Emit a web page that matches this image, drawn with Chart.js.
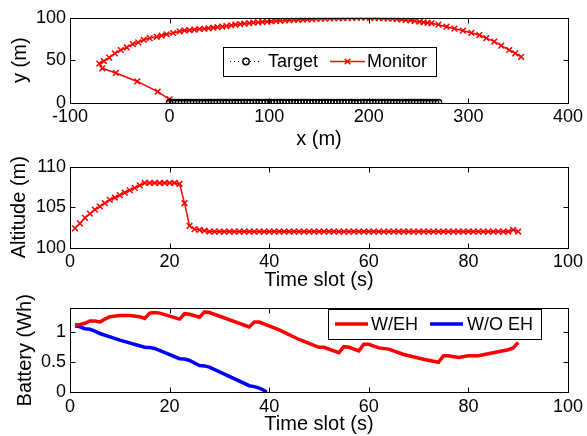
<!DOCTYPE html>
<html><head><meta charset="utf-8">
<script src="https://cdn.jsdelivr.net/npm/chart.js@4.4.0/dist/chart.umd.min.js"></script>
<style>
html,body{margin:0;padding:0;background:#fff;overflow:hidden;width:587px;height:436px;}
canvas{position:absolute;left:0;}
</style></head><body>
<canvas id="c1" width="587" height="152" style="top:0px"></canvas>
<canvas id="c2" width="587" height="140" style="top:152px"></canvas>
<canvas id="c3" width="587" height="144" style="top:292px"></canvas>
<script>
// ---------- Data ----------
const targetX = [0,3,6,9,12,15,18,21,24,27,30,33,36,39,42,45,48,51,54,57,60,63,66,69,72,75,78,81,84,87,
  90,93,96,99,102,105,108,111,114,117,120,123,126,129,132,135,138,141,144,147,150,153,156,159,162,165,168,171,174,177,
  180,183,186,189,192,195,198,201,204,207,210,213,216,219,222,225,228,231,234,237,240,243,246,249,252,255,258,261,264,267,270];
const targetY = [0,0,0,0,0,0,0,0,0,0,0,0,0,0,0,0,0,0,0,0,0,0,0,0,0,0,0,0,0,0,
  0,0,0,0,0,0,0,0,0,0,0,0,0,0,0,0,0,0,0,0,0,0,0,0,0,0,0,0,0,0,
  0,0,0,0,0,0,0,0,0,0,0,0,0,0,0,0,0,0,0,0,0,0,0,0,0,0,0,0,0,0,0];
const monitorX = [0,-12,-32.5,-54,-67.6,-70.6,
  -66,-60.6,-55,-49,-43,-37,-31.5,-26,-20,-13,-8,-3,3.6,10,15,20,25,30,35,39,
  44,48,53,57,62,66,71,75,80,84,89,93,98,102,107,111,116,120,125,129,134,138,143,147,
  152,156,161,165,170,174,179,183,188,192,197,201,206,210,215,219,224,228,233,237,242,246,251,255,259,
  263,270,278,286,294.5,303,311,318,326,333,341,347,353];
const monitorY = [4,13,25,35,40.5,46,
  49,53,58,62,65,69,71,74,76,77.5,79,80.5,82,84,85,85.5,86,86.7,87,87.5,
  88.2,88.8,89.5,90.2,91.1,91.8,92.5,93,93.6,94.1,94.6,95,95.4,95.8,96.2,96.5,96.8,97,97.3,97.5,97.8,98,98.3,98.5,
  98.8,99,99.2,99.4,99.5,99.6,99.7,99.8,99.9,100,100,99.9,99.8,99.6,99.4,99.2,98.8,98.4,97.9,97.3,96.8,96.2,95.3,94.6,94,
  93.5,91.8,89.4,87.2,84.7,82.2,79.6,76,71.8,67.2,62,58,54];

const timeSlots = [1,2,3,4,5,6,7,8,9,10,11,12,13,14,15,16,17,18,19,20,21,22,23,24,25,26,27,28,29,30,
  31,32,33,34,35,36,37,38,39,40,41,42,43,44,45,46,47,48,49,50,51,52,53,54,55,56,57,58,59,60,
  61,62,63,64,65,66,67,68,69,70,71,72,73,74,75,76,77,78,79,80,81,82,83,84,85,86,87,88,89,90];
const altitude = [102.4,103.0,103.7,104.2,104.7,105.1,105.5,105.9,106.2,106.5,
  106.8,107.1,107.4,107.7,108.0,108.0,108.0,108.0,108.0,108.0,
  108.0,107.9,105.5,102.7,102.3,102.2,102.1,102.0,102.0,102.0,
  102.0,102.0,102.0,102.0,102.0,102.0,102.0,102.0,102.0,102.0,
  102.0,102.0,102.0,102.0,102.0,102.0,102.0,102.0,102.0,102.0,
  102.0,102.0,102.0,102.0,102.0,102.0,102.0,102.0,102.0,102.0,
  102.0,102.0,102.0,102.0,102.0,102.0,102.0,102.0,102.0,102.0,
  102.0,102.0,102.0,102.0,102.0,102.0,102.0,102.0,102.0,102.0,
  102.0,102.0,102.0,102.0,102.0,102.0,102.0,102.0,102.2,102.0];

const ehT = [1,2,3,4,5,6,7,8,10,12,14,15,16,17,18,22,23,24,26,27,28,36,37,38,42,46,50,51,54,55,56,58,59,60,62,64,67,71,74,75,76,78,80,82,85,88,89,90];
const ehB = [1.12,1.13,1.15,1.19,1.19,1.17,1.22,1.26,1.28,1.28,1.26,1.23,1.32,1.33,1.32,1.22,1.31,1.30,1.25,1.34,1.33,1.09,1.17,1.17,1.04,0.88,0.75,0.75,0.66,0.76,0.75,0.69,0.80,0.80,0.74,0.72,0.63,0.55,0.50,0.61,0.61,0.58,0.61,0.61,0.66,0.71,0.74,0.83];
const noEhT = [1,2,3,4,5,6,10,15,16,17,22,23,24,26,27,28,36,37,38,39,39.5];
const noEhB = [1.11,1.09,1.06,1.05,1.02,0.98,0.87,0.75,0.745,0.73,0.56,0.555,0.53,0.445,0.44,0.42,0.11,0.095,0.07,0.03,0.0];

const xTicks1 = [-100,0,100,200,300,400];
const yTicks1 = [0,50,100];
const xTicksT = [0,20,40,60,80,100];
const yTicks2 = [100,105,110];
const yTicks3 = [0,0.5,1];

// ---------- Helpers ----------
const FONT = "'Liberation Sans', Arial, Helvetica, sans-serif";
const pts = (xs, ys) => xs.map((x, i) => ({x: x, y: ys[i]}));
const fmt = v => String(v);

function xScale(min, max, ticks, title, axisH, titlePad) {
  return {
    type: 'linear', position: 'bottom', min: min, max: max,
    afterBuildTicks: s => { s.ticks = ticks.map(v => ({value: v})); },
    afterFit: s => { s.height = axisH; },
    grid: {display: false, drawTicks: false}, border: {display: false},
    ticks: {color: '#000', font: {family: FONT, size: 18}, padding: 4, maxRotation: 0, autoSkip: false, callback: fmt},
    title: {display: true, text: title, color: '#000', font: {family: FONT, size: 20}, padding: {top: 0, bottom: titlePad}}
  };
}
function yScale(min, max, ticks, title, titlePad) {
  return {
    type: 'linear', position: 'left', min: min, max: max,
    afterBuildTicks: s => { s.ticks = ticks.map(v => ({value: v})); },
    afterFit: s => { s.width = 70; },
    grid: {display: false, drawTicks: false}, border: {display: false},
    ticks: {color: '#000', font: {family: FONT, size: 18}, padding: 4, autoSkip: false, callback: fmt},
    title: {display: true, text: title, color: '#000', font: {family: FONT, size: 20}, padding: {top: titlePad, bottom: 0}}
  };
}

const framePlugin = {
  id: 'frame',
  afterDatasetsDraw(chart) {
    const ctx = chart.ctx, a = chart.chartArea, x = chart.scales.x, y = chart.scales.y;
    const l = Math.round(a.left) + 0.5, r = Math.round(a.right) + 0.5, t = Math.round(a.top) + 0.5, b = Math.round(a.bottom) + 0.5;
    ctx.save();
    ctx.strokeStyle = '#000'; ctx.lineWidth = 1;
    ctx.strokeRect(l, t, r - l, b - t);
    const L = 5;
    ctx.beginPath();
    x.ticks.forEach(tk => {
      const px = Math.round(x.getPixelForValue(tk.value)) + 0.5;
      ctx.moveTo(px, b); ctx.lineTo(px, b - L);
      ctx.moveTo(px, t); ctx.lineTo(px, t + L);
    });
    y.ticks.forEach(tk => {
      const py = Math.round(y.getPixelForValue(tk.value)) + 0.5;
      ctx.moveTo(l, py); ctx.lineTo(l + L, py);
      ctx.moveTo(r, py); ctx.lineTo(r - L, py);
    });
    ctx.stroke();
    ctx.restore();
  }
};

function marker(ctx, style, r, cx, cy) {
  ctx.beginPath();
  if (style === 'circle') {
    ctx.arc(cx, cy, r, 0, Math.PI * 2);
    ctx.stroke();
  } else if (style === 'crossRot') {
    const d = r * Math.SQRT1_2;
    ctx.moveTo(cx - d, cy - d); ctx.lineTo(cx + d, cy + d);
    ctx.moveTo(cx - d, cy + d); ctx.lineTo(cx + d, cy - d);
    ctx.stroke();
  }
}

const boxLegend = {
  id: 'boxLegend',
  afterDraw(chart, args, opts) {
    if (!opts || !opts.box) return;
    const ctx = chart.ctx;
    const [x0, y0, x1, y1] = opts.box;
    const cy = (y0 + y1) / 2;
    ctx.save();
    ctx.fillStyle = '#fff';
    ctx.fillRect(x0, y0, x1 - x0, y1 - y0);
    ctx.strokeStyle = '#000'; ctx.lineWidth = 1;
    ctx.strokeRect(x0 + 0.5, y0 + 0.5, x1 - x0, y1 - y0);
    opts.items.forEach((it, i) => {
      const ds = chart.data.datasets[i];
      ctx.strokeStyle = ds.borderColor;
      ctx.lineWidth = ds.borderWidth;
      ctx.setLineDash(ds.borderDash || []);
      ctx.beginPath(); ctx.moveTo(it.s, cy); ctx.lineTo(it.e, cy); ctx.stroke();
      ctx.setLineDash([]);
      if (ds.pointRadius > 0) {
        ctx.strokeStyle = ds.pointBorderColor;
        ctx.lineWidth = ds.pointBorderWidth;
        marker(ctx, ds.pointStyle, ds.pointRadius, (it.s + it.e) / 2, cy);
      }
      ctx.fillStyle = '#000';
      ctx.font = '18px ' + FONT;
      ctx.textBaseline = 'middle'; ctx.textAlign = 'left';
      ctx.fillText(ds.label, it.t, cy + 1);
    });
    ctx.restore();
  }
};

const common = {
  responsive: false, animation: false,
  elements: {line: {tension: 0}},
  plugins: {legend: {display: false}, tooltip: {enabled: false}}
};

// ---------- Chart 1: trajectory ----------
new Chart(document.getElementById('c1'), {
  type: 'scatter',
  data: {datasets: [
    {label: 'Target', data: pts(targetX, targetY), showLine: true,
     borderColor: '#000', borderWidth: 1, borderDash: [1, 3],
     pointStyle: 'circle', pointRadius: 3.2, pointBorderWidth: 1.4,
     pointBorderColor: '#000', pointBackgroundColor: 'rgba(0,0,0,0)'},
    {label: 'Monitor', data: pts(monitorX, monitorY), showLine: true,
     borderColor: '#ff0000', borderWidth: 1.5,
     pointStyle: 'crossRot', pointRadius: 4, pointBorderWidth: 1.5,
     pointBorderColor: '#ff0000', pointBackgroundColor: '#ff0000'}
  ]},
  options: Object.assign({}, common, {
    layout: {autoPadding: false, padding: {top: 17.7, right: 18, bottom: 0, left: 0}},
    scales: {
      x: xScale(-100, 400, xTicks1, 'x (m)', 49.3, 1),
      y: yScale(0, 100, yTicks1, 'y (m)', 8)
    },
    plugins: Object.assign({}, common.plugins, {
      boxLegend: {box: [223, 47, 436, 76], items: [{s: 230, e: 262, t: 268}, {s: 330, e: 365, t: 367}]}
    })
  }),
  plugins: [framePlugin, boxLegend]
});

// ---------- Chart 2: altitude ----------
new Chart(document.getElementById('c2'), {
  type: 'scatter',
  data: {datasets: [
    {label: 'Altitude', data: pts(timeSlots, altitude), showLine: true,
     borderColor: '#ff0000', borderWidth: 1.5,
     pointStyle: 'crossRot', pointRadius: 4, pointBorderWidth: 1.5,
     pointBorderColor: '#ff0000', pointBackgroundColor: '#ff0000'}
  ]},
  options: Object.assign({}, common, {
    layout: {autoPadding: false, padding: {top: 12, right: 18, bottom: 0, left: 0}},
    scales: {
      x: xScale(0, 100, xTicksT, 'Time slot (s)', 44.3, 0),
      y: yScale(100, 110, yTicks2, 'Altitude (m)', 7)
    }
  }),
  plugins: [framePlugin]
});

// ---------- Chart 3: battery ----------
new Chart(document.getElementById('c3'), {
  type: 'scatter',
  data: {datasets: [
    {label: 'W/EH', data: pts(ehT, ehB), showLine: true,
     borderColor: '#ff0000', borderWidth: 3.5, pointRadius: 0},
    {label: 'W/O EH', data: pts(noEhT, noEhB), showLine: true,
     borderColor: '#0000ff', borderWidth: 3.5, pointRadius: 0}
  ]},
  options: Object.assign({}, common, {
    layout: {autoPadding: false, padding: {top: 16.3, right: 18, bottom: 0, left: 0}},
    scales: {
      x: xScale(0, 100, xTicksT, 'Time slot (s)', 43.7, 0),
      y: yScale(0, 1.4, yTicks3, 'Battery (Wh)', 13)
    },
    plugins: Object.assign({}, common.plugins, {
      boxLegend: {box: [328, 17, 541, 47], items: [{s: 335, e: 368, t: 371}, {s: 430, e: 463, t: 467}]}
    })
  }),
  plugins: [framePlugin, boxLegend]
});
</script>
</body></html>
